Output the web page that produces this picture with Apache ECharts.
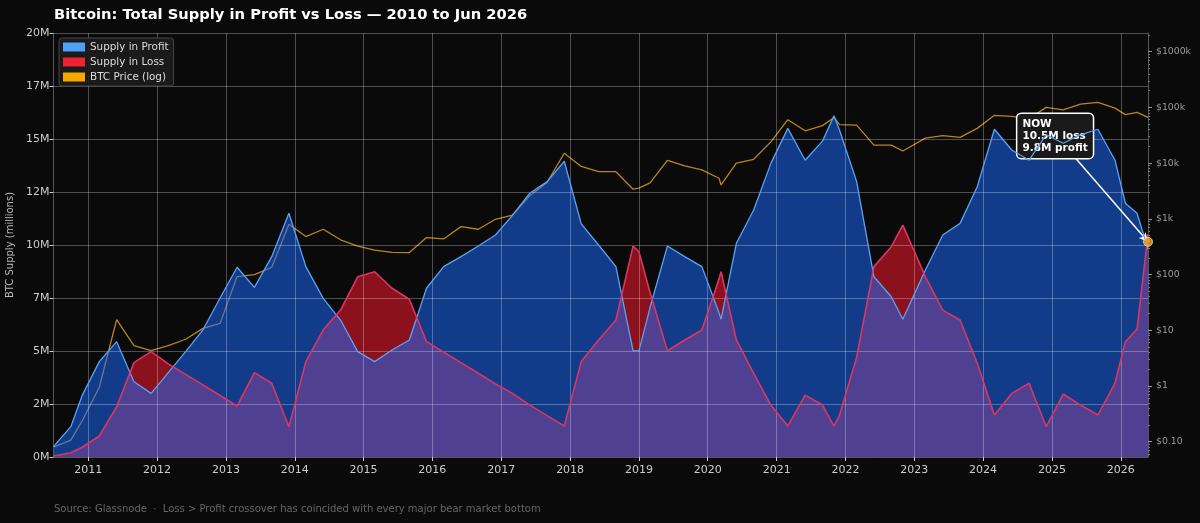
<!DOCTYPE html>
<html>
<head>
<meta charset="utf-8">
<script src="https://cdn.jsdelivr.net/npm/echarts@6/dist/echarts.min.js"></script>
<style>
html,body{margin:0;padding:0;background:#0a0a0a;}
#chart{width:1200px;height:523px;}
</style>
</head>
<body>
<div id="chart"></div>
<script>
// ---- data ----
const dates = [
  '2010-07-01','2010-10-01','2010-12-01','2011-03-01','2011-06-01','2011-09-01','2011-12-01',
  '2012-03-01','2012-06-01','2012-09-01','2012-12-01','2013-03-01','2013-06-01','2013-09-01','2013-12-01',
  '2014-03-01','2014-06-01','2014-09-01','2014-12-01','2015-03-01','2015-06-01','2015-09-01','2015-12-01',
  '2016-03-01','2016-06-01','2016-09-01','2016-12-01','2017-03-01','2017-06-01','2017-09-01','2017-12-01',
  '2018-03-01','2018-06-01','2018-09-01','2018-12-01','2019-01-01','2019-03-01','2019-06-01','2019-09-01','2019-12-01',
  '2020-03-01','2020-03-12','2020-06-01','2020-09-01','2020-12-01',
  '2021-03-01','2021-06-01','2021-09-01','2021-11-01','2021-12-01',
  '2022-03-01','2022-06-01','2022-09-01','2022-11-01',
  '2023-03-01','2023-06-01','2023-09-01','2023-12-01',
  '2024-03-01','2024-06-01','2024-09-01','2024-12-01',
  '2025-03-01','2025-06-01','2025-09-01','2025-12-01',
  '2026-01-25','2026-03-28','2026-05-25'
];
const profitM = [
  0.49,1.43,2.92,4.50,5.44,3.55,3.00,
  3.98,4.97,6.00,7.50,8.95,8.00,9.45,11.50,
  8.98,7.48,6.46,4.97,4.50,5.05,5.52,7.96,
  8.98,9.45,9.95,10.47,11.40,12.44,12.99,13.95,
  11.00,10.00,8.98,5.01,5.01,7.05,9.95,9.45,8.98,
  6.80,6.50,10.08,11.65,13.85,
  15.50,14.00,14.90,16.10,15.40,
  13.00,8.50,7.56,6.50,
  8.82,10.47,11.02,12.75,
  15.46,14.48,14.00,15.20,
  14.80,15.20,15.46,14.00,
  11.97,11.50,9.80
];
const lossM = [
  0.05,0.20,0.46,0.99,2.37,4.45,4.97,
  4.39,3.90,3.40,2.90,2.40,3.98,3.48,1.43,
  4.50,6.00,6.93,8.50,8.74,7.96,7.44,5.44,
  4.95,4.45,3.95,3.45,3.00,2.45,1.95,1.46,
  4.50,5.52,6.46,9.95,9.68,7.76,5.01,5.52,5.99,
  8.40,8.74,5.52,3.95,2.45,
  1.46,2.92,2.45,1.46,2.00,
  4.70,8.98,9.92,10.94,
  8.50,6.93,6.46,4.42,
  1.98,3.00,3.48,1.43,
  2.97,2.45,1.98,3.48,
  5.44,6.03,10.50
];
const priceUSD = [
  0.08,0.107,0.24,0.95,15.5,5.3,4.3,
  5.3,6.9,10.8,13.3,92,100,135,800,
  480,650,420,325,275,250,248,460,
  435,725,650,980,1170,2600,4500,15000,
  8700,7000,7000,3400,3550,4400,11200,8900,7550,
  5350,4050,10000,11700,24000,
  60000,38000,47000,66000,49000,
  48000,21000,21000,16500,
  28000,31000,29000,42000,
  72000,69000,63000,100000,
  90000,114000,123000,97000,
  74000,81000,66000
];
const yearTicks = [2011,2012,2013,2014,2015,2016,2017,2018,2019,2020,2021,2022,2023,2024,2025,2026];
const priceTicks = [0.1,1,10,100,1000,10000,100000,1000000];
const priceMin = 0.0532, priceMax = 2.16e6;
const annotationAnchor = ['2024-07-01', 16.18];   // top-left of the NOW box
const arrowStart = ['2025-05-06', 14.09];

// ---- derived ----
const ts = s => { const p = s.split('-').map(Number); return new Date(p[0], p[1]-1, p[2]).getTime(); };
const profitData = dates.map((d,i)=>[ts(d), profitM[i]]);
const lossData = dates.map((d,i)=>[ts(d), lossM[i]]);
const priceData = dates.map((d,i)=>[ts(d), priceUSD[i]]);
const yearValues = yearTicks.map(y => new Date(y,0,1).getTime());
const minorTicks = [];
priceTicks.concat([1e-2]).forEach(b => { for (let k=2;k<=9;k++){ const v=b*k; if (v>priceMin && v<priceMax) minorTicks.push(v); } });
const firstTs = ts(dates[0]);
const lastTs = ts(dates[dates.length-1]);
const lastLoss = lossM[lossM.length-1], lastProfit = profitM[profitM.length-1];
const nowValue = (lastLoss + lastProfit) / 2;

const gridColor = 'rgba(255,255,255,0.28)';
const FONT = 'DejaVu Sans';

const chart = echarts.init(document.getElementById('chart'), null, {renderer:'canvas'});
chart.setOption({
  backgroundColor: '#0a0a0a',
  animation: false,
  textStyle: {fontFamily: FONT},
  title: [
    {text: 'Bitcoin: Total Supply in Profit vs Loss \u2014 2010 to Jun 2026', left: 54, top: 7.5, padding: 0,
     textStyle: {color:'#ffffff', fontSize: 14.7, fontWeight:'bold', fontFamily: FONT}},
    {text: 'Source: Glassnode  \u00b7  Loss > Profit crossover has coincided with every major bear market bottom',
     left: 54, top: 504, padding: 0,
     textStyle: {color:'#666666', fontSize: 10, fontWeight:'normal', fontFamily: FONT}}
  ],
  legend: {
    orient: 'vertical', left: 59, top: 38, padding: [4,5,4,4],
    itemWidth: 22, itemHeight: 9, itemGap: 5, itemTextGap: 9,
    backgroundColor: 'rgba(28,28,28,0.92)', borderColor: '#444', borderWidth: 1, borderRadius: 3,
    textStyle: {color:'#dddddd', fontSize: 10.4, fontFamily: FONT},
    selectedMode: false,
    data: [
      {name:'Supply in Profit', icon:'rect', itemStyle:{color:'#4f9ff7'}},
      {name:'Supply in Loss', icon:'rect', itemStyle:{color:'#ee2233'}},
      {name:'BTC Price (log)', icon:'rect', itemStyle:{color:'#f5a800'}}
    ]
  },
  grid: {left: 53.5, right: 52, top: 33, bottom: 66, outerBoundsMode: 'none', containLabel: false},
  xAxis: {
    type: 'value', min: firstTs, max: lastTs, z: 3,
    axisLine: {show: true, onZero: false, lineStyle: {color:'#555'}},
    axisTick: {show: true, length: 4, lineStyle: {color:'#cccccc'}, customValues: yearValues},
    axisLabel: {color:'#cccccc', fontSize: 11, margin: 8, customValues: yearValues,
      formatter: v => String(new Date(v).getFullYear())},
    splitLine: {show: true, lineStyle: {color: gridColor, width: 1}}
  },
  yAxis: [
    {
      type: 'value', min: 0, max: 20, interval: 2.5, position: 'left', z: 3,
      name: 'BTC Supply (millions)', nameLocation: 'middle', nameGap: 35,
      nameTextStyle: {color:'#bbbbbb', fontSize: 10, fontFamily: FONT},
      axisLine: {show: true, lineStyle: {color:'#555'}},
      axisTick: {show: true, length: 4, lineStyle: {color:'#cccccc'}},
      axisLabel: {color:'#cccccc', fontSize: 11, margin: 4, formatter: v => Math.floor(v) + 'M'},
      splitLine: {show: true, lineStyle: {color: gridColor, width: 1}}
    },
    {
      type: 'log', logBase: 10, min: priceMin, max: priceMax, position: 'right', z: 3,
      axisLine: {show: true, lineStyle: {color:'#555'}},
      axisTick: {show: true, length: 4, lineStyle: {color:'#999'}, customValues: priceTicks},
      axisLabel: {color:'#999999', fontSize: 9.3, margin: 8, customValues: priceTicks,
        formatter: v => v < 1 ? '$' + v.toFixed(2) : (v < 1000 ? '$' + Math.round(v) : '$' + Math.round(v/1000) + 'k')},
      splitLine: {show: false}
    },
    {
      type: 'log', logBase: 10, min: priceMin, max: priceMax, position: 'right', z: 3,
      axisLine: {show: false},
      axisTick: {show: true, length: 2, lineStyle: {color:'#777'}, customValues: minorTicks},
      axisLabel: {show: false},
      splitLine: {show: false}
    }
  ],
  series: [
    {name:'BTC Price (log)', type:'line', yAxisIndex: 1, data: priceData, symbol:'none', showSymbol:false,
     lineStyle:{color:'#d99a1e', width:1.3, opacity:0.85}, itemStyle:{color:'#f5a800'}, z: 1, silent: true},
    {name:'Supply in Loss', type:'line', data: lossData, symbol:'none', showSymbol:false,
     lineStyle:{width:0, opacity:0}, areaStyle:{color:'rgba(225,22,42,0.6)', opacity: 1}, itemStyle:{color:'#ee2233'}, z: 2, silent: true},
    {name:'Supply in Profit', type:'line', data: profitData, symbol:'none', showSymbol:false,
     lineStyle:{width:0, opacity:0}, areaStyle:{color:'rgba(27,107,255,0.52)', opacity: 1}, itemStyle:{color:'#4f9ff7'}, z: 2, silent: true},
    {name:'Supply in Profit', type:'line', data: profitData, symbol:'none', showSymbol:false,
     lineStyle:{color:'#5aa2f5', width:1.3}, itemStyle:{color:'#4f9ff7'}, z: 5, silent: true},
    {name:'Supply in Loss', type:'line', data: lossData, symbol:'none', showSymbol:false,
     lineStyle:{color:'#dc3560', width:1.6}, itemStyle:{color:'#ee2233'}, z: 5, silent: true},
    {name:'now', type:'scatter', data: [[lastTs, nowValue]], symbolSize: 9, z: 6, silent: true,
     itemStyle:{color:'#f5a623', borderColor:'#ffe2a8', borderWidth:1},
     markLine: {
       silent: true, symbol: ['none','arrow'], symbolSize: [7,9], animation: false,
       lineStyle: {color:'#ffffff', width: 1.5, type:'solid'}, label:{show:false},
       data: [[{coord: [ts(arrowStart[0]), arrowStart[1]]}, {coord: [lastTs, nowValue]}]]
     },
     markPoint: {
       silent: true, symbol: 'rect', symbolSize: 0, animation: false,
       data: [{coord: [ts(annotationAnchor[0]), annotationAnchor[1]],
         label: {show: true, position: [0,0], align:'left', verticalAlign:'top',
           formatter: 'NOW\n' + lastLoss.toFixed(1) + 'M loss\n' + lastProfit.toFixed(1) + 'M profit',
           color:'#ffffff', fontSize: 10.5, fontWeight:'bold', fontFamily: FONT, lineHeight: 12,
           backgroundColor:'#1a1a1a', borderColor:'#ffffff', borderWidth: 1.5, borderRadius: 4,
           padding: [4,5,4,5]}}]
     }
    }
  ]
});
</script>
</body>
</html>
